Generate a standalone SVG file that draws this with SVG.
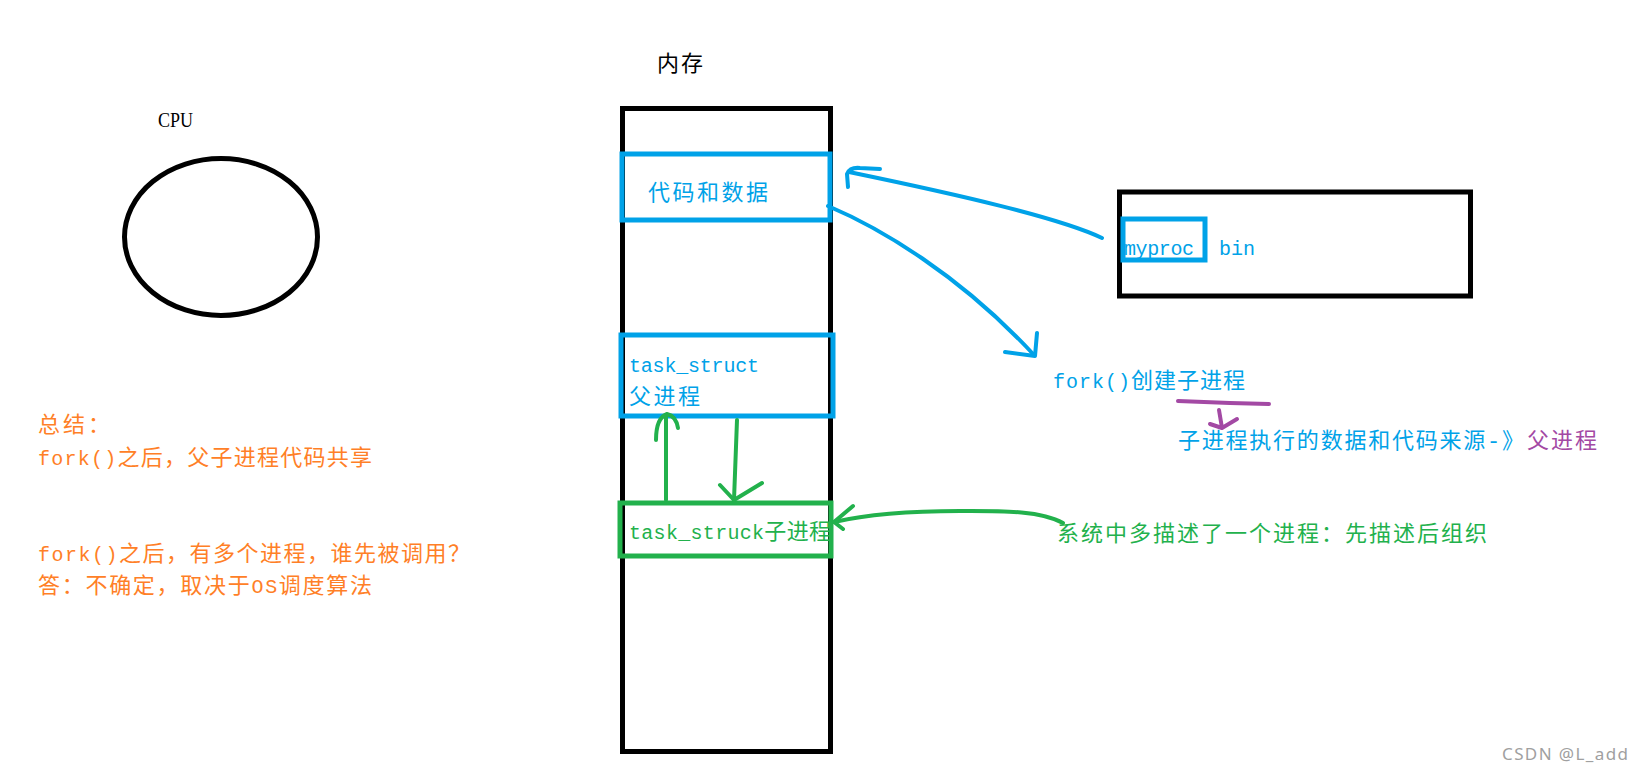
<svg xmlns="http://www.w3.org/2000/svg" width="1643" height="774" viewBox="0 0 1643 774">
<style>
  .t { font-family: "Liberation Mono", "Noto Sans CJK SC", monospace; font-size: 22px; }
  .lat { font-size: 20px; }
  .blk { fill: #000000; }
  .blu { fill: #00A2E8; }
  .grn { fill: #22B14C; }
  .pur { fill: #A349A4; }
  .org { fill: #FF7F27; }
  .box { fill: none; stroke-width: 5; }
  .ln { fill: none; stroke-width: 4; stroke-linecap: round; stroke-linejoin: round; }
</style>
<rect width="1643" height="774" fill="#ffffff"/>

<g id="cpu">
  <text x="158" y="127" font-family="Liberation Serif, serif" font-size="21" textLength="35" lengthAdjust="spacingAndGlyphs" class="blk">CPU</text>
  <ellipse cx="221" cy="237" rx="96.5" ry="78.5" fill="none" stroke="#000" stroke-width="5"/>
</g>

<g id="memory">
  <text x="657" y="71" class="t blk" textLength="46">内存</text>
  <rect x="622.5" y="108.5" width="208" height="643" class="box" stroke="#000"/>
</g>

<g id="code-data">
  <rect x="622" y="154" width="208" height="66" class="box" stroke="#00A2E8" stroke-width="4"/>
  <text x="648" y="200" class="t blu" textLength="120">代码和数据</text>
</g>

<g id="parent-task">
  <rect x="621" y="335" width="212" height="81" class="box" stroke="#00A2E8" stroke-width="4"/>
  <text x="629" y="372" class="t lat blu" textLength="130">task_struct</text>
  <text x="629" y="404" class="t blu" textLength="71">父进程</text>
</g>

<g id="child-task">
  <rect x="620" y="503" width="211" height="53" class="box" stroke="#22B14C" stroke-width="4"/>
  <text x="629" y="539" class="t grn" textLength="202"><tspan class="lat">task_struck</tspan>子进程</text>
</g>

<g id="disk">
  <rect x="1119.5" y="192" width="351" height="104" class="box" stroke="#000"/>
  <rect x="1123" y="219" width="82" height="41" class="box" stroke="#00A2E8" stroke-width="4"/>
  <text x="1124" y="255" class="t lat blu" textLength="70">myproc</text>
  <text x="1219" y="255" class="t lat blu" textLength="36">bin</text>
</g>

<g id="fork-label">
  <text x="1053" y="388" class="t blu" textLength="192"><tspan class="lat">fork()</tspan>创建子进程</text>
</g>

<g id="source-label">
  <text x="1178" y="448" class="t blu" textLength="346">子进程执行的数据和代码来源-》</text>
  <text x="1527" y="448" class="t pur" textLength="70">父进程</text>
</g>

<g id="system-label">
  <text x="1057" y="541" class="t grn" textLength="430">系统中多描述了一个进程：先描述后组织</text>
</g>

<g id="summary">
  <text x="38" y="432" class="t org" textLength="72">总结：</text>
  <text x="38" y="465" class="t org" textLength="334"><tspan class="lat">fork()</tspan>之后，父子进程代码共享</text>
  <text x="38" y="561" class="t org" textLength="432"><tspan class="lat">fork()</tspan>之后，有多个进程，谁先被调用？</text>
  <text x="38" y="593" class="t org" textLength="334">答：不确定，取决于<tspan class="lat">OS</tspan>调度算法</text>
</g>

<g id="connectors">
  <path class="ln" stroke="#00A2E8" d="M1102,238 C1060,218 960,195 849,172"/>
  <path class="ln" stroke="#00A2E8" d="M848,187 L847,174 Q850,167 860,168 L880,169"/>
  <path class="ln" stroke="#00A2E8" d="M828,206 C880,228 960,275 1034,355"/>
  <path class="ln" stroke="#00A2E8" d="M1005,352 L1035,356 L1037,333"/>
  <path class="ln" stroke="#22B14C" d="M666,500 L666,415"/>
  <path class="ln" stroke="#22B14C" d="M656,440 Q656,418 667,414 Q676,416 678,428"/>
  <path class="ln" stroke="#22B14C" d="M737,420 L734,500"/>
  <path class="ln" stroke="#22B14C" d="M720,485 L734,500 L762,483"/>
  <path class="ln" stroke="#22B14C" d="M1063,523 C1040,510 1000,511 960,511 C900,511 860,516 834,522"/>
  <path class="ln" stroke="#22B14C" d="M853,506 L834,522 L843,529"/>
  <path class="ln" stroke="#A349A4" stroke-width="5" d="M1178,401 L1230,403 L1269,404"/>
  <path class="ln" stroke="#A349A4" d="M1219,410 L1222,428 M1210,424 L1222,428 L1237,419"/>
</g>

<g id="watermark">
  <text x="1502" y="760" font-family="Noto Sans, sans-serif" font-size="17" fill="#a0a0a0" textLength="126">CSDN @L_add</text>
</g>
</svg>
